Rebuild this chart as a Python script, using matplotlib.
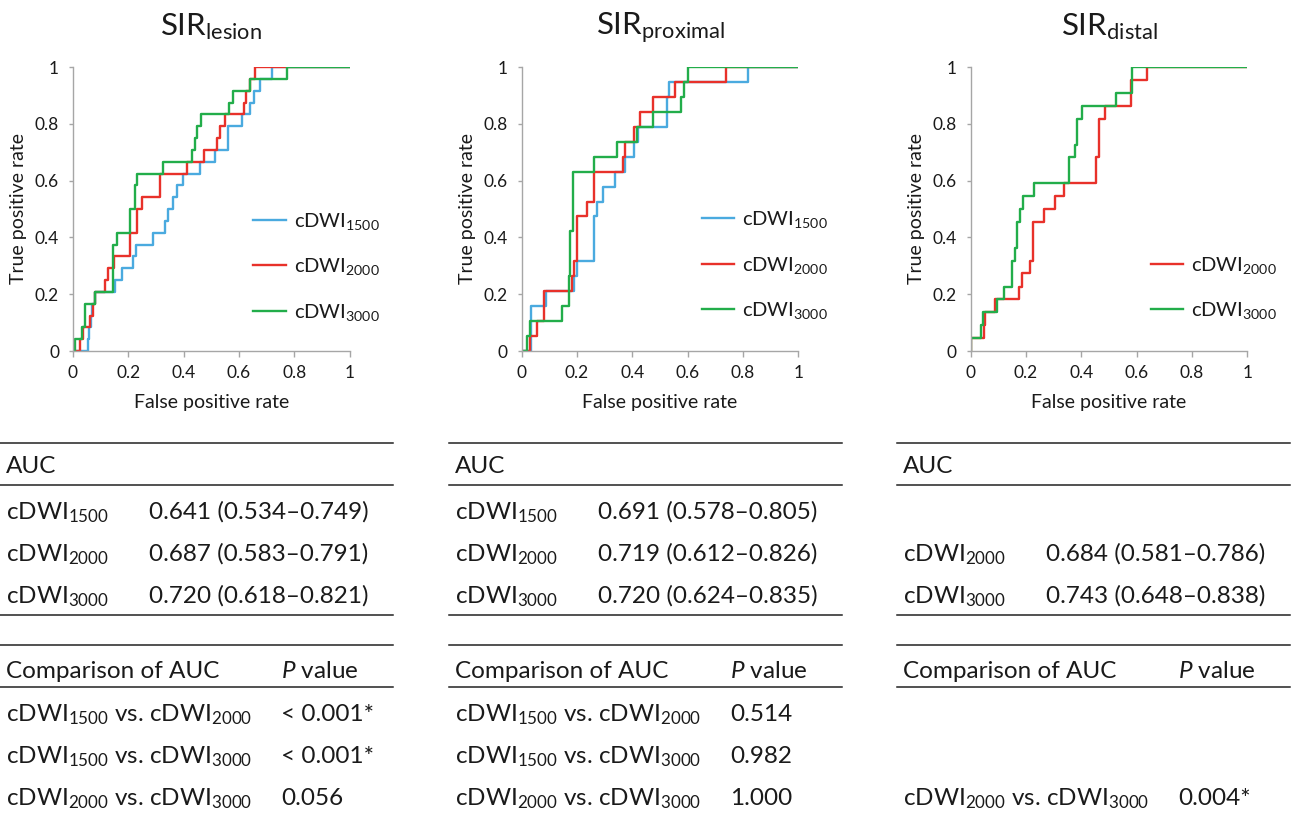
import matplotlib
matplotlib.use("Agg")
import matplotlib.pyplot as plt
from matplotlib.lines import Line2D

plt.rcParams['font.family'] = ['Lato', 'DejaVu Sans']
plt.rcParams['mathtext.fontset'] = 'custom'
plt.rcParams['mathtext.rm'] = 'Lato'
plt.rcParams['mathtext.it'] = 'Lato:italic'

# ROC curves (false positive rate, true positive rate)
lesion_1500_fpr = [0, 0.053, 0.058, 0.064, 0.07, 0.078, 0.152, 0.178, 0.218, 0.227, 0.288, 0.332, 0.345,
                   0.36, 0.375, 0.398, 0.461, 0.513, 0.561, 0.613, 0.639, 0.653, 0.675, 0.721, 1]
lesion_1500_tpr = [0, 0.042, 0.083, 0.125, 0.167, 0.208, 0.25, 0.292, 0.333, 0.375, 0.417, 0.458, 0.5,
                   0.542, 0.583, 0.625, 0.667, 0.708, 0.792, 0.833, 0.875, 0.917, 0.958, 1.0, 1.0]
lesion_2000_fpr = [0, 0.025, 0.036, 0.06, 0.072, 0.08, 0.117, 0.125, 0.15, 0.206, 0.23, 0.248, 0.314,
                   0.413, 0.475, 0.522, 0.53, 0.549, 0.62, 0.627, 0.639, 0.658, 1]
lesion_2000_tpr = [0, 0.042, 0.083, 0.125, 0.167, 0.208, 0.25, 0.292, 0.333, 0.417, 0.5, 0.542, 0.625,
                   0.667, 0.708, 0.75, 0.792, 0.833, 0.875, 0.917, 0.958, 1.0, 1.0]
lesion_3000_fpr = [0, 0.006, 0.034, 0.044, 0.08, 0.143, 0.158, 0.206, 0.224, 0.233, 0.324, 0.432, 0.44,
                   0.448, 0.462, 0.566, 0.577, 0.639, 0.775, 1]
lesion_3000_tpr = [0, 0.042, 0.083, 0.167, 0.208, 0.375, 0.417, 0.5, 0.583, 0.625, 0.667, 0.708, 0.75,
                   0.792, 0.833, 0.875, 0.917, 0.958, 1.0, 1.0]

proximal_1500_fpr = [0, 0.033, 0.088, 0.19, 0.2, 0.26, 0.273, 0.293, 0.339, 0.375, 0.407, 0.42, 0.524,
                     0.532, 0.819, 1]
proximal_1500_tpr = [0, 0.158, 0.211, 0.263, 0.316, 0.474, 0.526, 0.579, 0.632, 0.684, 0.737, 0.789, 0.895,
                     0.947, 1.0, 1.0]
proximal_2000_fpr = [0, 0.03, 0.055, 0.079, 0.182, 0.19, 0.2, 0.236, 0.26, 0.365, 0.372, 0.405, 0.429,
                     0.475, 0.556, 0.738, 1]
proximal_2000_tpr = [0, 0.053, 0.105, 0.211, 0.263, 0.316, 0.474, 0.526, 0.632, 0.684, 0.737, 0.789, 0.842,
                     0.895, 0.947, 1.0, 1.0]
proximal_3000_fpr = [0, 0.02, 0.03, 0.145, 0.17, 0.176, 0.184, 0.26, 0.345, 0.417, 0.475, 0.577, 0.586,
                     0.601, 1]
proximal_3000_tpr = [0, 0.053, 0.105, 0.158, 0.263, 0.421, 0.632, 0.684, 0.737, 0.789, 0.842, 0.895, 0.947,
                     1.0, 1.0]

distal_2000_fpr = [0, 0, 0.048, 0.05, 0.087, 0.175, 0.187, 0.215, 0.227, 0.264, 0.306, 0.336, 0.452,
                   0.464, 0.484, 0.581, 0.636, 1]
distal_2000_tpr = [0, 0.045, 0.091, 0.136, 0.182, 0.227, 0.273, 0.318, 0.455, 0.5, 0.545, 0.591, 0.682,
                   0.818, 0.864, 0.955, 1.0, 1.0]
distal_3000_fpr = [0, 0, 0.036, 0.045, 0.096, 0.119, 0.149, 0.159, 0.167, 0.177, 0.188, 0.228, 0.355,
                   0.377, 0.385, 0.403, 0.524, 0.585, 1]
distal_3000_tpr = [0, 0.045, 0.091, 0.136, 0.182, 0.227, 0.318, 0.364, 0.455, 0.5, 0.545, 0.591, 0.682,
                   0.727, 0.818, 0.864, 0.909, 1.0, 1.0]

# table contents
titles = ['lesion', 'proximal', 'distal']
series_names = ['1500', '2000', '3000']
auc_lesion = ['0.641 (0.534\u20130.749)', '0.687 (0.583\u20130.791)', '0.720 (0.618\u20130.821)']
auc_proximal = ['0.691 (0.578\u20130.805)', '0.719 (0.612\u20130.826)', '0.720 (0.624\u20130.835)']
auc_distal = [None, '0.684 (0.581\u20130.786)', '0.743 (0.648\u20130.838)']
comparisons = [('1500', '2000'), ('1500', '3000'), ('2000', '3000')]
p_lesion = ['< 0.001*', '< 0.001*', '0.056']
p_proximal = ['0.514', '0.982', '1.000']
p_distal = [None, None, '0.004*']

colors = {'1500': '#4aaadf', '2000': '#e8312a', '3000': '#22ad4a'}

curves = [
    {'1500': (lesion_1500_fpr, lesion_1500_tpr), '2000': (lesion_2000_fpr, lesion_2000_tpr),
     '3000': (lesion_3000_fpr, lesion_3000_tpr)},
    {'1500': (proximal_1500_fpr, proximal_1500_tpr), '2000': (proximal_2000_fpr, proximal_2000_tpr),
     '3000': (proximal_3000_fpr, proximal_3000_tpr)},
    {'2000': (distal_2000_fpr, distal_2000_tpr), '3000': (distal_3000_fpr, distal_3000_tpr)},
]
aucs = [auc_lesion, auc_proximal, auc_distal]
pvals = [p_lesion, p_proximal, p_distal]

W, H = 1291, 814
fig = plt.figure(figsize=(W / 100, H / 100), dpi=100)

ax_left = [73, 521.7, 970.7]
legend_y = [0.296, 0.302, 0.222]
txt = '#1a1a1a'
axis_gray = '#a6a6a6'

for i in range(3):
    ax = fig.add_axes([ax_left[i] / W, 1 - 351 / H, 276.5 / W, 284 / H])
    handles = []
    for key in ['1500', '2000', '3000']:
        if key not in curves[i]:
            continue
        fpr, tpr = curves[i][key]
        ln, = ax.plot(fpr, tpr, drawstyle='steps-post', color=colors[key], lw=1.7,
                      label=r'cDWI$_{\mathrm{%s}}$' % key)
        handles.append(ln)
    ax.set_xlim(0, 1)
    ax.set_ylim(0, 1)
    ticks = [0, 0.2, 0.4, 0.6, 0.8, 1]
    ax.set_xticks(ticks)
    ax.set_yticks(ticks)
    ax.set_xticklabels(['0', '0.2', '0.4', '0.6', '0.8', '1'])
    ax.set_yticklabels(['0', '0.2', '0.4', '0.6', '0.8', '1'])
    for s in ['top', 'right']:
        ax.spines[s].set_visible(False)
    for s in ['left', 'bottom']:
        ax.spines[s].set_color(axis_gray)
        ax.spines[s].set_linewidth(1.0)
    ax.tick_params(axis='x', length=4, width=1, color=axis_gray, pad=6, labelsize=12.5, labelcolor=txt)
    ax.tick_params(axis='y', length=3, width=1, color=axis_gray, pad=7, labelsize=12.5, labelcolor=txt)
    ax.set_xlabel('False positive rate', fontsize=14, color=txt)
    ax.set_ylabel('True positive rate', fontsize=14, color=txt)
    ax.xaxis.set_label_coords(0.5, -0.152)
    ax.yaxis.set_label_coords(-0.165, 0.5)
    ax.text(0.5, 1.113, r'SIR$_{\mathrm{%s}}$' % titles[i], transform=ax.transAxes,
            ha='center', va='baseline', fontsize=22.5, color=txt)
    ax.legend(handles=handles, loc='center left', bbox_to_anchor=(0.652, legend_y[i]), frameon=False,
              fontsize=14.5, handlelength=1.6, handletextpad=0.4, labelspacing=1.22,
              borderpad=0, borderaxespad=0, labelcolor=txt)

# tables below the ROC plots
offsets = [0, 449, 897]
line_ys = [442.7, 484.5, 614.5, 645, 687]
row_base = [519, 561, 603]
cmp_base = [721, 763, 805]
fs = 17.5

for i in range(3):
    ox = offsets[i]
    for y in line_ys:
        fig.add_artist(Line2D([(ox + 0) / W, (ox + 393) / W], [1 - y / H, 1 - y / H],
                              color='#222222', lw=1.1))
    fig.text((ox + 6) / W, 1 - 473 / H, 'AUC', fontsize=fs, color=txt, va='baseline')
    for j, key in enumerate(series_names):
        if aucs[i][j] is None:
            continue
        fig.text((ox + 6) / W, 1 - row_base[j] / H, r'cDWI$_{\mathrm{%s}}$' % key,
                 fontsize=fs, color=txt, va='baseline')
        fig.text((ox + 149) / W, 1 - row_base[j] / H, aucs[i][j],
                 fontsize=fs, color=txt, va='baseline')
    fig.text((ox + 6) / W, 1 - 677.5 / H, 'Comparison of AUC', fontsize=fs, color=txt, va='baseline')
    fig.text((ox + 281) / W, 1 - 677.5 / H, r'$\mathit{P}$ value', fontsize=fs, color=txt, va='baseline')
    for j, (a, b) in enumerate(comparisons):
        if pvals[i][j] is None:
            continue
        fig.text((ox + 6) / W, 1 - cmp_base[j] / H,
                 r'cDWI$_{\mathrm{%s}}$ vs. cDWI$_{\mathrm{%s}}$' % (a, b),
                 fontsize=fs, color=txt, va='baseline')
        fig.text((ox + 281) / W, 1 - cmp_base[j] / H, pvals[i][j],
                 fontsize=fs, color=txt, va='baseline')

fig.savefig('out.png', dpi=100)
